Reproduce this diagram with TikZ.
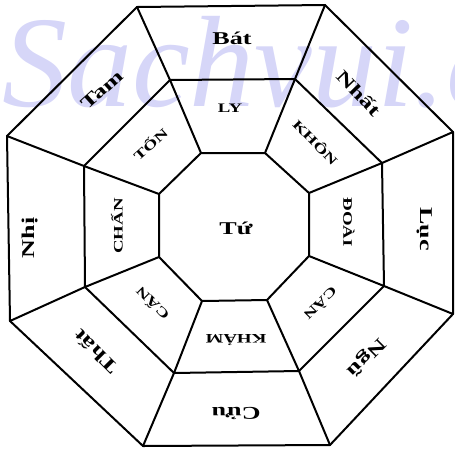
\documentclass[tikz,border=0pt]{standalone}
\usepackage{fontspec}
\setmainfont{Liberation Serif}
\definecolor{wmark}{RGB}{214,214,248}
\newcommand\widetxt[1]{\scalebox{1.45}[1]{#1}}
\tikzset{
  bigl/.style={font=\fontsize{18}{18}\selectfont\bfseries, inner sep=1pt},
  smalll/.style={font=\fontsize{13}{13}\selectfont\bfseries, inner sep=1pt},
  edge/.style={line width=2pt, line join=round, line cap=round},
}
\begin{document}
\begin{tikzpicture}[x=1pt,y=-1pt]
\useasboundingbox (0,0) rectangle (455,448);
\begin{scope}
\clip (0,0) rectangle (455,448);
\node[anchor=base west, inner sep=0, text=wmark, font=\fontsize{130}{130}\selectfont\itshape] (wm) at (2,106) {Sachvui.c};
\end{scope}
% outer
\coordinate (o1) at (137,7);
\coordinate (o2) at (325,5);
\coordinate (o3) at (453,132);
\coordinate (o4) at (453,314);
\coordinate (o5) at (330,445);
\coordinate (o6) at (143,446);
\coordinate (o7) at (10,321);
\coordinate (o8) at (7,136);
% middle
\coordinate (m1) at (170,80);
\coordinate (m2) at (295,79);
\coordinate (m3) at (382,163);
\coordinate (m4) at (384,286);
\coordinate (m5) at (299,371);
\coordinate (m6) at (174,373);
\coordinate (m7) at (85,287);
\coordinate (m8) at (84,166);
% inner
\coordinate (i1) at (201,153);
\coordinate (i2) at (265,153);
\coordinate (i3) at (309,193);
\coordinate (i4) at (309,256);
\coordinate (i5) at (267,300);
\coordinate (i6) at (202,301);
\coordinate (i7) at (159,257);
\coordinate (i8) at (159,194);
\draw[edge] (o1)--(o2)--(o3)--(o4)--(o5)--(o6)--(o7)--(o8)--cycle;
\draw[edge] (m1)--(m2)--(m3)--(m4)--(m5)--(m6)--(m7)--(m8)--cycle;
\draw[edge] (i1)--(i2)--(i3)--(i4)--(i5)--(i6)--(i7)--(i8)--cycle;
\foreach \k in {1,...,8}{\draw[edge] (o\k)--(m\k)--(i\k);}
% labels
\node[bigl] (bat) at (232,38) {\widetxt{Bát}};
\node[smalll] (ly) at (230,108) {\widetxt{LY}};
\node[bigl, rotate=-46] (nhat) at (359,93) {\widetxt{Nhất}};
\node[smalll, rotate=-46] (khon) at (316,142) {\widetxt{KHÔN}};
\node[bigl, rotate=-90] (luc) at (425,229) {\widetxt{Lục}};
\node[smalll, rotate=-90] (doai) at (349,222) {\widetxt{ĐOÀI}};
\node[bigl, rotate=-135] (ngu) at (366,357) {\widetxt{Ngũ}};
\node[smalll, rotate=-135] (can) at (321,304) {\widetxt{CÀN}};
\node[bigl, rotate=180] (cuu) at (236,413) {\widetxt{Cửu}};
\node[smalll, rotate=180] (kham) at (236,340) {\widetxt{KHẢM}};
\node[bigl, rotate=135] (that) at (96,352) {\widetxt{Thất}};
\node[smalll, rotate=135] (canb) at (152,304) {\widetxt{CẤN}};
\node[bigl, rotate=90] (nhi) at (30,238) {\widetxt{Nhị}};
\node[smalll, rotate=90] (chan) at (117,226) {\widetxt{CHẤN}};
\node[bigl, rotate=42] (tam) at (102,90) {\widetxt{Tam}};
\node[smalll, rotate=42] (ton) at (150,144) {\widetxt{TỐN}};
\node[bigl] (tu) at (236,228) {\widetxt{Tứ}};
\end{tikzpicture}
\end{document}
